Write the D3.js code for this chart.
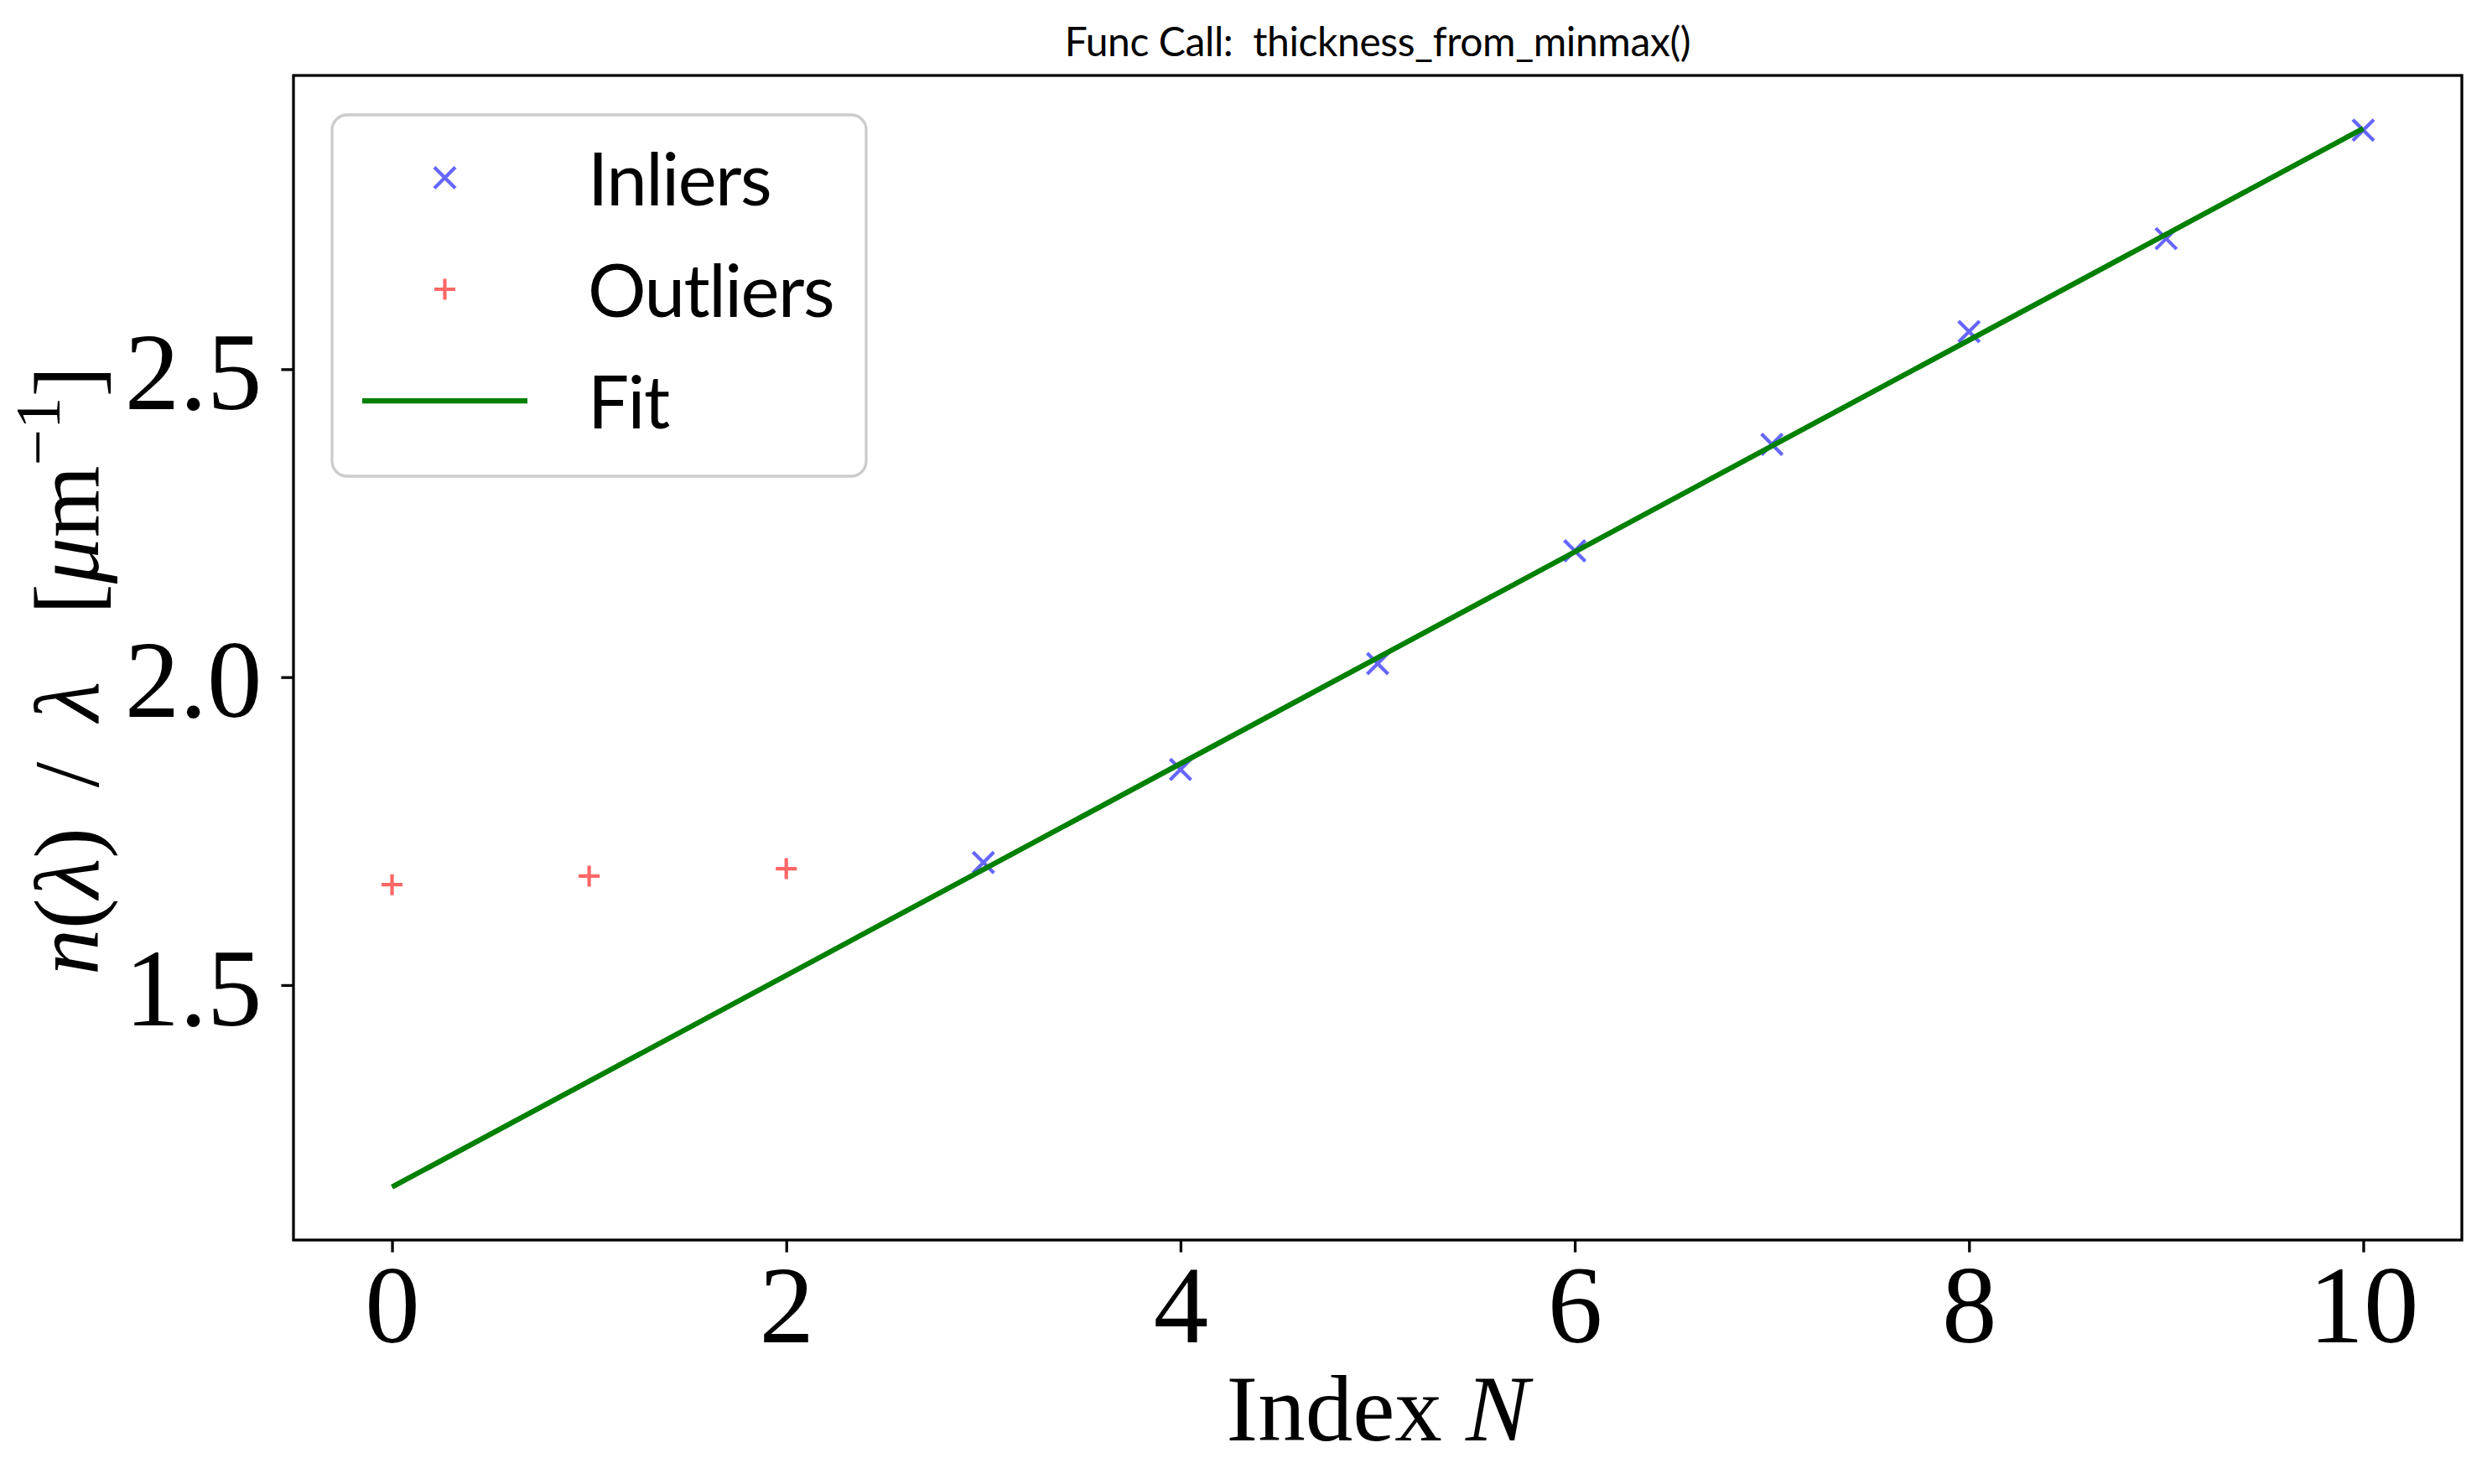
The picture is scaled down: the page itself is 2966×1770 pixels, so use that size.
<!DOCTYPE html>
<html>
<head>
<meta charset="utf-8">
<script src="https://cdn.jsdelivr.net/npm/d3@7"></script>
<style>
html,body{margin:0;padding:0;background:#fff;}
svg{display:block;}
</style>
</head>
<body>
<script>
// ---------- data ----------
const inlierN   = [3, 4, 5, 6, 7, 8, 9, 10];
const inlierVal = [1.699, 1.850, 2.022, 2.205, 2.378, 2.561, 2.712, 2.888];
const outlierN   = [0, 1, 2];
const outlierVal = [1.663, 1.677, 1.689];
const fitN   = [0, 10];
const fitVal = [1.172, 2.891];
const xTicks = [0, 2, 4, 6, 8, 10];
const yTicks = [1.5, 2.0, 2.5];
const yTickLabels = ["1.5", "2.0", "2.5"];
const legendLabels = ["Inliers", "Outliers", "Fit"];
const titleText = "Func Call:  thickness_from_minmax()";

// ---------- layout ----------
const W = 2966, H = 1770;
const m = {left: 350, right: 2936, top: 90, bottom: 1479};
const serif = "'Liberation Serif', 'DejaVu Serif', serif";
const sans = "Lato, 'Open Sans', sans-serif";
const colIn = "#6666ff", colOut = "#ff6666", colFit = "#008000";

const svg = d3.select("body").append("svg").attr("width", W).attr("height", H);
svg.append("rect").attr("width", W).attr("height", H).attr("fill", "#fff");

const allX = inlierN.concat(outlierN, fitN);
const allY = inlierVal.concat(outlierVal, fitVal);
const [x0, x1] = d3.extent(allX), xp = (x1 - x0) * 0.05;
const [y0, y1] = d3.extent(allY), yp = (y1 - y0) * 0.05;
const x = d3.scaleLinear().domain([x0 - xp, x1 + xp]).range([m.left, m.right]);
const y = d3.scaleLinear().domain([y0 - yp, y1 + yp]).range([m.bottom, m.top]);

// marker generators
const half = 12.5;
const xMark = (cx, cy) => `M${cx-half},${cy-half}L${cx+half},${cy+half}M${cx-half},${cy+half}L${cx+half},${cy-half}`;
const plusMark = (cx, cy) => `M${cx-half},${cy}L${cx+half},${cy}M${cx},${cy-half}L${cx},${cy+half}`;

const plot = svg.append("g");
// inliers
plot.selectAll("path.in").data(inlierN.map((n, i) => [n, inlierVal[i]])).join("path")
  .attr("class", "in").attr("d", d => xMark(x(d[0]), y(d[1])))
  .attr("stroke", colIn).attr("stroke-width", 4.2).attr("fill", "none");
// outliers
plot.selectAll("path.out").data(outlierN.map((n, i) => [n, outlierVal[i]])).join("path")
  .attr("class", "out").attr("d", d => plusMark(x(d[0]), y(d[1])))
  .attr("stroke", colOut).attr("stroke-width", 4.2).attr("fill", "none");
// fit
plot.append("path").datum(fitN.map((n, i) => [n, fitVal[i]]))
  .attr("d", d3.line().x(d => x(d[0])).y(d => y(d[1])))
  .attr("stroke", colFit).attr("stroke-width", 6.25).attr("fill", "none");

// ---------- axes ----------
const gx = svg.append("g").attr("transform", `translate(0,${m.bottom})`)
  .call(d3.axisBottom(x).tickValues(xTicks).tickSize(14.6).tickSizeOuter(0).tickPadding(14).tickFormat(d3.format("d")));
gx.select(".domain").remove();
gx.selectAll(".tick line").attr("stroke", "#000").attr("stroke-width", 3.3);
gx.selectAll(".tick text").attr("font-family", serif).attr("font-size", 131).attr("fill", "#000");

const gy = svg.append("g").attr("transform", `translate(${m.left},0)`)
  .call(d3.axisLeft(y).tickValues(yTicks).tickSize(14.6).tickSizeOuter(0).tickPadding(23)
    .tickFormat((d, i) => yTickLabels[i]));
gy.select(".domain").remove();
gy.selectAll(".tick line").attr("stroke", "#000").attr("stroke-width", 3.3);
gy.selectAll(".tick text").attr("font-family", serif).attr("font-size", 131).attr("fill", "#000").attr("dy", "0.36em");

// frame
svg.append("rect").attr("x", m.left).attr("y", m.top)
  .attr("width", m.right - m.left).attr("height", m.bottom - m.top)
  .attr("fill", "none").attr("stroke", "#000").attr("stroke-width", 3.3);

// ---------- title ----------
svg.append("text").attr("x", (m.left + m.right) / 2).attr("y", 67)
  .attr("text-anchor", "middle").attr("font-family", sans).attr("font-size", 48)
  .attr("letter-spacing", -0.4).style("white-space", "pre")
  .attr("fill", "#000").text(titleText);

// ---------- x label ----------
const xl = svg.append("text").attr("x", (m.left + m.right) / 2).attr("y", 1718)
  .attr("text-anchor", "middle").attr("font-family", serif).attr("font-size", 113).attr("fill", "#000");
xl.append("tspan").text("Index ");
xl.append("tspan").attr("font-style", "italic").text("N");

// ---------- y label ----------
const yl = svg.append("text").attr("transform", `translate(117,800) rotate(-90)`)
  .attr("text-anchor", "middle").attr("font-family", serif).attr("font-size", 110).attr("fill", "#000");
yl.append("tspan").attr("font-style", "italic").text("n");
yl.append("tspan").text("(");
yl.append("tspan").attr("font-style", "italic").text("λ");
yl.append("tspan").text(")");
yl.append("tspan").attr("dx", 48).text("/");
yl.append("tspan").attr("dx", 48).attr("font-style", "italic").text("λ");
yl.append("tspan").attr("dx", 80).text("[");
yl.append("tspan").attr("font-style", "italic").text("μ");
yl.append("tspan").text("m");
yl.append("tspan").attr("font-size", 77).attr("dy", -46).text("−1");
yl.append("tspan").attr("dy", 46).text("]");

// ---------- legend ----------
const lg = svg.append("g");
lg.append("rect").attr("x", 396).attr("y", 137).attr("width", 637).attr("height", 431).attr("rx", 18)
  .attr("fill", "#fff").attr("fill-opacity", 0.8).attr("stroke", "#cccccc").attr("stroke-width", 3.3);
const rowY = [212, 345, 478];
const handleX0 = 432, handleX1 = 629, handleC = (handleX0 + handleX1) / 2;
lg.append("path").attr("d", xMark(handleC, rowY[0])).attr("stroke", colIn).attr("stroke-width", 4.2).attr("fill", "none");
lg.append("path").attr("d", plusMark(handleC, rowY[1])).attr("stroke", colOut).attr("stroke-width", 4.2).attr("fill", "none");
lg.append("line").attr("x1", handleX0).attr("x2", handleX1).attr("y1", rowY[2]).attr("y2", rowY[2])
  .attr("stroke", colFit).attr("stroke-width", 6.25);
lg.selectAll("text.lab").data(legendLabels).join("text").attr("class", "lab")
  .attr("x", 701).attr("y", (d, i) => rowY[i] + 33)
  .attr("font-family", sans).attr("font-size", 87).attr("letter-spacing", -1.5)
  .attr("fill", "#000").text(d => d);
</script>
</body>
</html>
